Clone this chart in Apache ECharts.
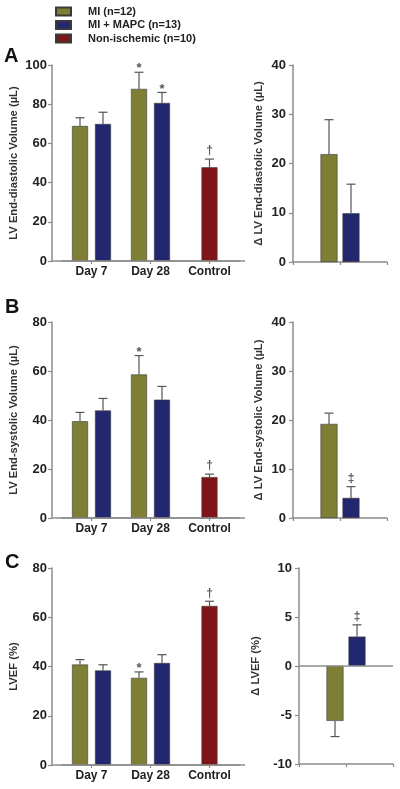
<!DOCTYPE html>
<html><head><meta charset="utf-8">
<script src="https://cdn.jsdelivr.net/npm/echarts@6/dist/echarts.min.js"></script>
<style>html,body{margin:0;padding:0;background:#fff}#c{width:400px;height:789px}</style>
</head><body><div id="c"></div>
<script>
// ---------- data ----------
const categories = ['Day 7', 'Day 28', 'Control'];
const seriesNames = ['MI (n=12)', 'MI + MAPC (n=13)', 'Non-ischemic (n=10)'];

// Panel A: LV end-diastolic volume (µL)
const edvMI = [68.9, 87.8, null];
const edvMIErr = [4.2, 8.5, null];
const edvMIMark = ['', '*', ''];
const edvMAPC = [69.9, 80.6, null];
const edvMAPCErr = [6.0, 5.4, null];
const edvMAPCMark = ['', '*', ''];
const edvCtrl = [null, null, 47.8];
const edvCtrlErr = [null, null, 4.2];
const edvCtrlMark = ['', '', '†'];
const dEdvMI = [21.9];
const dEdvMIErr = [7.0];
const dEdvMAPC = [9.9];
const dEdvMAPCErr = [5.9];
const dEdvMAPCMark = [''];

// Panel B: LV end-systolic volume (µL)
const esvMI = [39.5, 58.6, null];
const esvMIErr = [3.6, 7.7, null];
const esvMIMark = ['', '*', ''];
const esvMAPC = [43.9, 48.3, null];
const esvMAPCErr = [4.9, 5.4, null];
const esvMAPCMark = ['', '', ''];
const esvCtrl = [null, null, 16.7];
const esvCtrlErr = [null, null, 1.2];
const esvCtrlMark = ['', '', '†'];
const dEsvMI = [19.2];
const dEsvMIErr = [2.2];
const dEsvMAPC = [4.1];
const dEsvMAPCErr = [2.3];
const dEsvMAPCMark = ['‡'];

// Panel C: LVEF (%)
const efMI = [40.8, 35.4, null];
const efMIErr = [2.0, 2.4, null];
const efMIMark = ['', '*', ''];
const efMAPC = [38.4, 41.4, null];
const efMAPCErr = [2.3, 3.4, null];
const efMAPCMark = ['', '', ''];
const efCtrl = [null, null, 64.6];
const efCtrlErr = [null, null, 1.9];
const efCtrlMark = ['', '', '†'];
const dEfMI = [-5.6];
const dEfMIErr = [1.6];
const dEfMAPC = [3.0];
const dEfMAPCErr = [1.2];
const dEfMAPCMark = ['‡'];

// y-axis ticks
const edvTicks = {min: 0, max: 100, step: 20};
const dEdvTicks = {min: 0, max: 40, step: 10};
const esvTicks = {min: 0, max: 80, step: 20};
const dEsvTicks = {min: 0, max: 40, step: 10};
const efTicks = {min: 0, max: 80, step: 20};
const dEfTicks = {min: -10, max: 10, step: 5};

// ---------- style ----------
const FONT = '"Liberation Sans", Arial, sans-serif';
const C_MI = '#7e7f35', C_MAPC = '#23276f', C_CTRL = '#7f1518';
const AXIS = '#8c8c8c', ERR = '#555555', TXT = '#222222';
const LB_W = 16, LB_GAP = 7;   // left panels bar width / gap
const RB_W = 17, RB_GAP = 5;   // right panels bar width / gap

const grids = [
  {left: 62, top: 65, width: 177, height: 196},
  {left: 293, top: 65, width: 94, height: 197},
  {left: 62, top: 322, width: 177, height: 196},
  {left: 293, top: 322, width: 94, height: 196},
  {left: 62, top: 568, width: 177, height: 197},
  {left: 299, top: 568, width: 94, height: 196}
].map(g => Object.assign({outerBoundsMode: 'none', containLabel: false}, g));

const xAxes = [], yAxes = [], series = [];

function yAxis(g, t, name, isLeft, nameGap) {
  return {
    type: 'value', gridIndex: g, min: t.min, max: t.max, interval: t.step,
    offset: isLeft ? 10 : 0,
    name: name, nameLocation: 'middle', nameGap: nameGap,
    nameTextStyle: {fontFamily: FONT, fontSize: 11.2, fontWeight: 'bold', color: '#333'},
    axisLine: {show: true, onZero: false, lineStyle: {color: AXIS, width: 1.5}},
    axisTick: {show: true, length: 4, lineStyle: {color: AXIS, width: 1.2}},
    axisLabel: {margin: isLeft ? 5 : 7, fontFamily: FONT, fontSize: 13, fontWeight: 'bold', color: TXT},
    splitLine: {show: false}
  };
}

function errSeries(xi, yi, vals, errs, marks, off) {
  return {
    type: 'custom', xAxisIndex: xi, yAxisIndex: yi, z: 5, silent: true,
    data: vals.map((v, i) => v == null ? null : [i, v, errs[i]]).filter(Boolean),
    renderItem: function (params, api) {
      const ci = api.value(0), v = api.value(1), e = api.value(2);
      const p0 = api.coord([ci, v]);
      const p1 = api.coord([ci, v < 0 ? v - e : v + e]);
      const x = p0[0] + off;
      const children = [
        {type: 'line', shape: {x1: x, y1: p0[1], x2: x, y2: p1[1]}, style: {stroke: ERR, lineWidth: 1.2}},
        {type: 'line', shape: {x1: x - 4.5, y1: p1[1], x2: x + 4.5, y2: p1[1]}, style: {stroke: ERR, lineWidth: 1.2}}
      ];
      const m = marks ? marks[ci] : '';
      if (m) {
        const star = m === '*';
        children.push({type: 'text', style: {
          text: m, x: x, y: p1[1] + (star ? 3 : -2), align: 'center', verticalAlign: 'bottom',
          fill: ERR, font: (star ? 'bold 13px ' : 'bold 12px ') + FONT
        }});
      }
      return {type: 'group', children: children};
    }
  };
}

function barStyle(c) { return {color: c, borderColor: '#3a3a3a', borderWidth: 0.6}; }

function leftPanel(g, d, t, name) {
  const xm = xAxes.length;
  xAxes.push({
    type: 'category', gridIndex: g, data: categories, position: 'bottom',
    axisLine: {show: true, onZero: false, lineStyle: {color: AXIS, width: 1.5}},
    axisTick: {show: true, alignWithLabel: true, length: 3, lineStyle: {color: AXIS, width: 1.2}},
    axisLabel: {margin: 5, fontFamily: FONT, fontSize: 12, fontWeight: 'bold', color: TXT}
  });
  const xh = xAxes.length;
  xAxes.push({type: 'category', gridIndex: g, data: categories, show: false, position: 'bottom'});
  yAxes.push(yAxis(g, t, name, true, 33));
  const gap = (LB_GAP / LB_W * 100) + '%';
  const off = (LB_W + LB_GAP) / 2;
  series.push(
    {type: 'bar', name: seriesNames[0], xAxisIndex: xm, yAxisIndex: g, data: d.mi, barWidth: LB_W, barGap: gap, itemStyle: barStyle(C_MI)},
    {type: 'bar', name: seriesNames[1], xAxisIndex: xm, yAxisIndex: g, data: d.mapc, barWidth: LB_W, barGap: gap, itemStyle: barStyle(C_MAPC)},
    {type: 'bar', name: seriesNames[2], xAxisIndex: xh, yAxisIndex: g, data: d.ctrl, barWidth: LB_W, itemStyle: barStyle(C_CTRL)},
    errSeries(xm, g, d.mi, d.miErr, d.miMark, -off),
    errSeries(xm, g, d.mapc, d.mapcErr, d.mapcMark, off),
    errSeries(xh, g, d.ctrl, d.ctrlErr, d.ctrlMark, 0)
  );
}

function rightPanel(g, d, t, name, nameGap, zeroLine) {
  xAxes.push({
    type: 'category', gridIndex: g, data: ['', ''], position: 'bottom',
    axisLine: {show: true, onZero: false, lineStyle: {color: AXIS, width: 1.5}},
    axisTick: {show: true, length: 3, lineStyle: {color: AXIS, width: 1.2}},
    axisLabel: {show: false}
  });
  const xh = xAxes.length;
  xAxes.push({type: 'category', gridIndex: g, data: ['Δ'], show: false, position: 'bottom'});
  yAxes.push(yAxis(g, t, name, false, nameGap));
  const gap = (RB_GAP / RB_W * 100) + '%';
  const off = (RB_W + RB_GAP) / 2;
  const miBar = {type: 'bar', name: seriesNames[0], xAxisIndex: xh, yAxisIndex: g, data: d.mi, barWidth: RB_W, barGap: gap, itemStyle: barStyle(C_MI)};
  if (zeroLine) {
    miBar.markLine = {silent: true, symbol: 'none', label: {show: false},
      lineStyle: {color: AXIS, width: 1.5, type: 'solid'}, data: [{yAxis: 0}]};
  }
  series.push(
    miBar,
    {type: 'bar', name: seriesNames[1], xAxisIndex: xh, yAxisIndex: g, data: d.mapc, barWidth: RB_W, barGap: gap, itemStyle: barStyle(C_MAPC)},
    errSeries(xh, g, d.mi, d.miErr, null, -off),
    errSeries(xh, g, d.mapc, d.mapcErr, d.mapcMark, off)
  );
}

leftPanel(0, {mi: edvMI, miErr: edvMIErr, miMark: edvMIMark, mapc: edvMAPC, mapcErr: edvMAPCErr, mapcMark: edvMAPCMark,
  ctrl: edvCtrl, ctrlErr: edvCtrlErr, ctrlMark: edvCtrlMark}, edvTicks, 'LV End-diastolic Volume (µL)');
rightPanel(1, {mi: dEdvMI, miErr: dEdvMIErr, mapc: dEdvMAPC, mapcErr: dEdvMAPCErr, mapcMark: dEdvMAPCMark},
  dEdvTicks, 'Δ LV End-diastolic Volume (µL)', 29, false);
leftPanel(2, {mi: esvMI, miErr: esvMIErr, miMark: esvMIMark, mapc: esvMAPC, mapcErr: esvMAPCErr, mapcMark: esvMAPCMark,
  ctrl: esvCtrl, ctrlErr: esvCtrlErr, ctrlMark: esvCtrlMark}, esvTicks, 'LV End-systolic Volume (µL)');
rightPanel(3, {mi: dEsvMI, miErr: dEsvMIErr, mapc: dEsvMAPC, mapcErr: dEsvMAPCErr, mapcMark: dEsvMAPCMark},
  dEsvTicks, 'Δ LV End-systolic Volume (µL)', 29, false);
leftPanel(4, {mi: efMI, miErr: efMIErr, miMark: efMIMark, mapc: efMAPC, mapcErr: efMAPCErr, mapcMark: efMAPCMark,
  ctrl: efCtrl, ctrlErr: efCtrlErr, ctrlMark: efCtrlMark}, efTicks, 'LVEF (%)');
rightPanel(5, {mi: dEfMI, miErr: dEfMIErr, mapc: dEfMAPC, mapcErr: dEfMAPCErr, mapcMark: dEfMAPCMark},
  dEfTicks, 'Δ LVEF (%)', 38, true);

const chart = echarts.init(document.getElementById('c'), null, {renderer: 'canvas'});
chart.setOption({
  animation: false,
  backgroundColor: '#ffffff',
  textStyle: {fontFamily: FONT},
  title: [
    {text: 'A', left: 4, top: 46},
    {text: 'B', left: 5, top: 297},
    {text: 'C', left: 5, top: 552}
  ].map(o => Object.assign(o, {padding: 0, textStyle: {fontFamily: FONT, fontSize: 20, fontWeight: 'bold', color: '#111'}})),
  legend: {
    data: seriesNames, orient: 'vertical', left: 55, top: 6, padding: 0,
    itemWidth: 15, itemHeight: 8, itemGap: 2.5, icon: 'rect', selectedMode: false,
    textStyle: {fontFamily: FONT, fontSize: 11, fontWeight: 'bold', color: TXT, padding: [0, 0, 0, 12]}
  },
  grid: grids,
  xAxis: xAxes,
  yAxis: yAxes,
  series: series
});

// extend x-axis baselines of left panels to meet the offset y-axis
const ext = [];
[0, 2, 4].forEach(g => {
  const y0 = chart.convertToPixel({yAxisIndex: g}, 0);
  const gr = grids[g];
  ext.push({type: 'line', silent: true, z: 10,
    shape: {x1: gr.left - 10, y1: y0, x2: gr.left + gr.width + 6, y2: y0},
    style: {stroke: AXIS, lineWidth: 1.5}});
});
chart.setOption({graphic: ext});
</script></body></html>
